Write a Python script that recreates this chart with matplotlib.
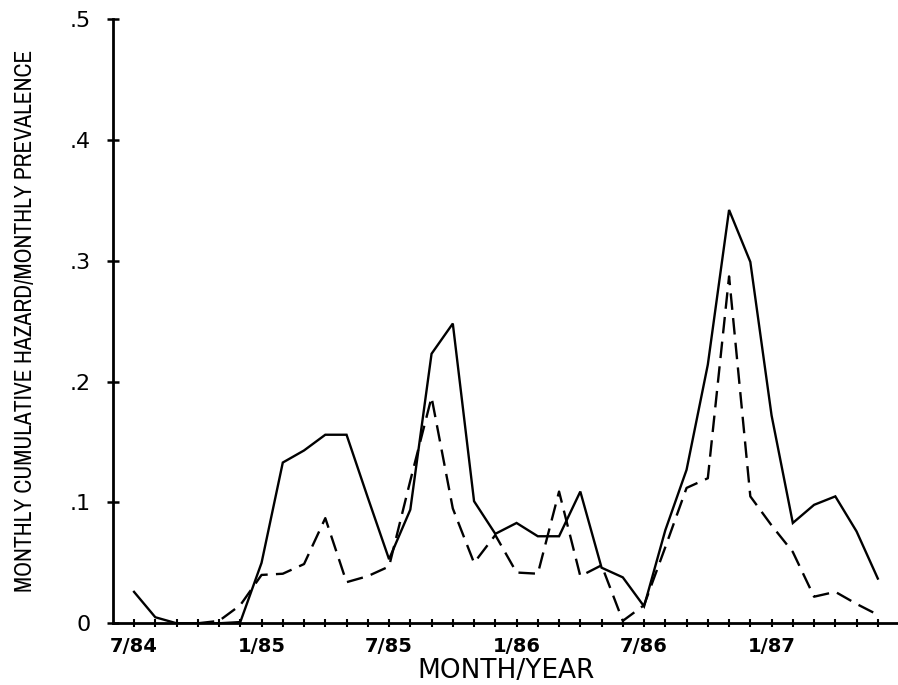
import matplotlib
matplotlib.use("Agg")
import matplotlib.pyplot as plt
from matplotlib import font_manager
import numpy as np

# months since 7/84 (0 = 7/84, 35 = 6/87)
months = np.arange(36)

# monthly cumulative hazard (solid)
hazard = [0.026, 0.005, 0.0, 0.0, 0.0, 0.001, 0.050, 0.133, 0.143, 0.156,
          0.156, 0.104, 0.053, 0.094, 0.223, 0.248, 0.101, 0.074, 0.083, 0.072,
          0.072, 0.109, 0.046, 0.038, 0.014, 0.077, 0.127, 0.214, 0.342, 0.299,
          0.172, 0.083, 0.098, 0.105, 0.076, 0.037]

# monthly prevalence (dashed)
prevalence = [np.nan, np.nan, np.nan, 0.0, 0.002, 0.015, 0.040, 0.041, 0.049, 0.087,
              0.034, 0.039, 0.047, 0.118, 0.187, 0.095, 0.050, 0.073, 0.042, 0.041,
              0.109, 0.039, 0.048, 0.002, 0.015, 0.063, 0.112, 0.120, 0.287, 0.105,
              0.081, 0.059, 0.022, 0.026, 0.016, 0.007]

tick_months = [0, 6, 12, 18, 24, 30]
tick_labels = ["7/84", "1/85", "7/85", "1/86", "7/86", "1/87"]
y_ticks = [0, 0.1, 0.2, 0.3, 0.4, 0.5]
y_labels = ["0", ".1", ".2", ".3", ".4", ".5"]

# narrow font for the long y label if one is installed
narrow_names = [f.name for f in font_manager.fontManager.ttflist
                if "Narrow" in f.name or "Condensed" in f.name]
ylab_kw = dict(fontsize=15.5)
if narrow_names:
    ylab_kw = dict(family=narrow_names[0], fontsize=16.9)
else:
    cond = font_manager.findfont(font_manager.FontProperties(family="DejaVu Sans",
                                                             stretch="condensed"))
    if "Condensed" in cond:
        ylab_kw = dict(family="DejaVu Sans", fontstretch="condensed", fontsize=16.9)

fig = plt.figure(figsize=(8.98, 6.85), dpi=100)
ax = fig.add_axes([0.1256, 0.0901, 0.8756, 0.8822])

ax.plot(months, hazard, color="black", lw=1.7, solid_joinstyle="miter")
ax.plot(months, prevalence, color="black", lw=1.7, dashes=(7, 3.5))

ax.set_xlim(-1, 36)
ax.set_ylim(0, 0.5)

# axes frame: only left and bottom lines
for side in ["top", "right"]:
    ax.spines[side].set_visible(False)
for side in ["left", "bottom"]:
    ax.spines[side].set_linewidth(2)

ax.set_xticks(tick_months)
ax.set_xticklabels(tick_labels, fontsize=14, fontweight="bold")
ax.set_xticks(months, minor=True)
ax.set_yticks(y_ticks)
ax.set_yticklabels(y_labels, fontsize=16)

ax.tick_params(axis="x", which="both", direction="inout", length=6, width=1.5, pad=7)
ax.tick_params(axis="y", direction="inout", length=8, width=1.8, pad=12)

ax.set_xlabel("MONTH/YEAR", fontsize=19, labelpad=1)
ax.set_ylabel("MONTHLY CUMULATIVE HAZARD/MONTHLY PREVALENCE", labelpad=24, **ylab_kw)

fig.savefig("out.png", dpi=100)
